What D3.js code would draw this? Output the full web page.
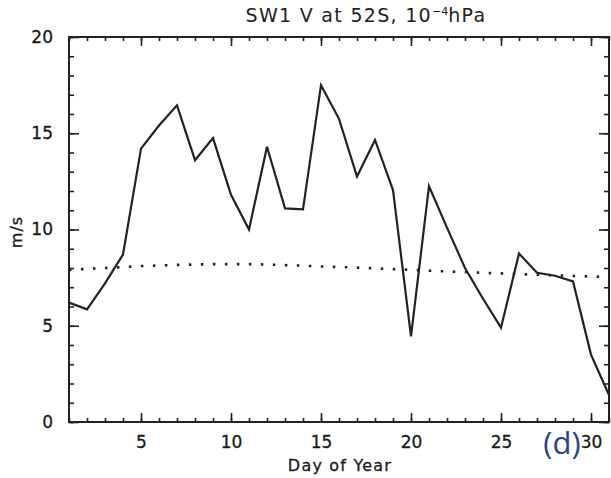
<!DOCTYPE html>
<html>
<head>
<meta charset="utf-8">
<script src="https://cdn.jsdelivr.net/npm/d3@7"></script>
<style>
  body { margin: 0; background: #fff; }
  svg { display: block; }
</style>
</head>
<body>
<script>
// daily wind values
const days = d3.range(1, 32);
const windV = [6.2, 5.85, 7.2, 8.7, 14.2, 15.4, 16.45, 13.6, 14.75, 11.8, 10.0, 14.3, 11.1, 11.05, 17.5,
  15.75, 12.75, 14.65, 12.05, 4.45, 12.25, 10.1, 8.0, 6.4, 4.9, 8.75, 7.75, 7.6, 7.3, 3.5, 1.4];
const meanV = [7.9, 7.95, 8.0, 8.05, 8.1, 8.13, 8.16, 8.18, 8.2, 8.2, 8.2, 8.18, 8.15, 8.12, 8.08,
  8.05, 8.02, 7.98, 7.94, 7.9, 7.86, 7.82, 7.79, 7.75, 7.72, 7.68, 7.65, 7.62, 7.59, 7.56, 7.53];

const xMajor = [5, 10, 15, 20, 25, 30];
const yMajor = [0, 5, 10, 15, 20];
const yMinor = d3.range(0, 21);

const width = 611, height = 478;
const margin = {top: 37, right: 2, bottom: 56, left: 69};
const font = "'DejaVu Sans', sans-serif";

const svg = d3.select("body").append("svg")
  .attr("width", width)
  .attr("height", height);

const x = d3.scaleLinear().domain([1, 31]).range([margin.left, width - margin.right]);
const y = d3.scaleLinear().domain([0, 20]).range([height - margin.bottom, margin.top]);

// frame
svg.append("rect")
  .attr("x", x(1)).attr("y", y(20))
  .attr("width", x(31) - x(1)).attr("height", y(0) - y(20))
  .attr("fill", "none").attr("stroke", "#222").attr("stroke-width", 2);

// ticks pointing inward, IDL style
function tickAxis(axis, tr, size, vals, fmt, pad) {
  const g = svg.append("g").attr("transform", tr)
    .call(axis.tickValues(vals).tickSize(size).tickPadding(pad || 3).tickFormat(fmt || ""));
  g.select(".domain").remove();
  g.selectAll("line").attr("stroke", "#222").attr("stroke-width", 1.6);
  g.selectAll("text").attr("fill", "#1a1a1a").style("font-family", font)
    .style("font-size", "17px").style("stroke", "#1a1a1a").style("stroke-width", 0.3);
  return g;
}
const yB = y(0), yT = y(20), xL = x(1), xR = x(31);
tickAxis(d3.axisBottom(x), `translate(0,${yB})`, -4, days);
tickAxis(d3.axisBottom(x), `translate(0,${yB})`, -9, xMajor, d3.format("d"), 14);
tickAxis(d3.axisTop(x), `translate(0,${yT})`, -4, days);
tickAxis(d3.axisTop(x), `translate(0,${yT})`, -9, xMajor);
tickAxis(d3.axisLeft(y), `translate(${xL},0)`, -5, yMinor);
tickAxis(d3.axisLeft(y), `translate(${xL},0)`, -10, yMajor, d3.format("d"), 16);
tickAxis(d3.axisRight(y), `translate(${xR},0)`, -5, yMinor);
tickAxis(d3.axisRight(y), `translate(${xR},0)`, -10, yMajor);

// climatology (dotted)
svg.append("path")
  .datum(days)
  .attr("fill", "none")
  .attr("stroke", "#222")
  .attr("stroke-width", 2.6)
  .attr("stroke-dasharray", "2.5,9.5")
  .attr("d", d3.line().x(d => x(d)).y((d, i) => y(meanV[i])));

// daily values
svg.append("path")
  .datum(days)
  .attr("fill", "none")
  .attr("stroke", "#222")
  .attr("stroke-width", 2.2)
  .attr("stroke-linejoin", "miter")
  .attr("d", d3.line().x(d => x(d)).y((d, i) => y(windV[i])));

// title
const title = svg.append("text")
  .attr("x", 366).attr("y", 22)
  .attr("text-anchor", "middle")
  .style("font-family", font).style("font-size", "19px").style("letter-spacing", "1.3px")
  .attr("fill", "#222");
title.append("tspan").text("SW1 V at 52S, 10");
title.append("tspan").attr("dy", -7).style("font-size", "11px").style("letter-spacing", "0px").text("−4");
title.append("tspan").attr("dy", 7).text("hPa");

// axis titles
svg.append("text")
  .attr("x", 340).attr("y", 471)
  .attr("text-anchor", "middle")
  .style("font-family", font).style("font-size", "16px").style("letter-spacing", "1.2px")
  .style("stroke", "#1a1a1a").style("stroke-width", 0.3)
  .attr("fill", "#1a1a1a")
  .text("Day of Year");

svg.append("text")
  .attr("transform", "translate(22,232) rotate(-90)")
  .attr("text-anchor", "middle")
  .style("font-family", font).style("font-size", "16px").style("letter-spacing", "1px")
  .style("stroke", "#1a1a1a").style("stroke-width", 0.3)
  .attr("fill", "#1a1a1a")
  .text("m/s");

// panel letter
svg.append("text")
  .attr("x", 562).attr("y", 454)
  .attr("text-anchor", "middle")
  .style("font-family", "'Open Sans', sans-serif").style("font-size", "31px").attr("fill", "#2b4580")
  .text("(d)");
</script>
</body>
</html>
